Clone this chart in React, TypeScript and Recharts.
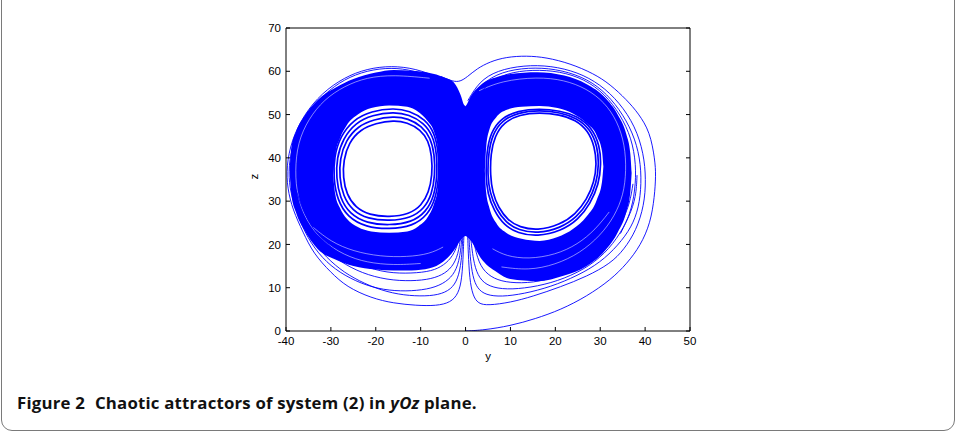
import React from 'react';
import { ComposedChart, Area, Line, XAxis, YAxis } from 'recharts';

const X_TICKS = [-40, -30, -20, -10, 0, 10, 20, 30, 40, 50];
const Z_TICKS = [0, 10, 20, 30, 40, 50, 60, 70];

// Dense bands of the two lobes: [y, zLow, zHigh]
const LEFT_BAND = [
  [-39.2, 37, 37], [-38.8, 31.5, 42.5], [-37.8, 27.5, 46], [-36, 23.5, 49.5], [-33, 19, 53.3],
  [-29, 16.5, 56.2], [-25, 15, 58.2], [-20, 14.2, 59.7], [-16, 14, 60.3], [-12, 14, 60.1],
  [-8, 14.5, 59.6], [-5, 16, 58.7], [-2.6, 18.6, 57.4], [-1.1, 21, 54.5], [-0.3, 22, 52.2],
  [1.5, 20.5, 51],
];
const RIGHT_BAND = [
  [-1.5, 20.5, 51], [0.2, 22, 52.2], [1.1, 21, 54.1], [3.3, 17, 56.8], [7, 13.6, 58.7],
  [10, 12, 59.4], [16, 11.5, 59.8], [22, 12.8, 59], [27, 15, 57], [31, 18.5, 54],
  [34, 23, 49.8], [35.8, 27.5, 45.5], [36.7, 32, 41], [37, 36.5, 36.5],
];
// Empty holes inside the lobes: [y, zLow, zHigh]
const LEFT_HOLE = [
  [-29.5, 36, 36], [-29, 31.5, 41], [-28, 28.5, 44.5], [-26.5, 26, 47.5], [-24, 24, 50],
  [-21, 23, 51.5], [-17, 22.7, 52.1], [-13, 23, 51.8], [-10.5, 24.2, 50.6], [-8.5, 26.2, 48.6],
  [-7, 29.5, 46], [-6.2, 33, 42.5], [-5.9, 37.5, 37.5],
];
const RIGHT_HOLE = [
  [4.3, 37, 37], [4.6, 32, 42.5], [5.3, 28.5, 46.5], [6.8, 25, 49.3], [9.2, 22.6, 51.1],
  [12.5, 21.3, 51.8], [16.5, 20.8, 52], [20.5, 21.7, 51.5], [24, 23.6, 50.2], [27, 26.5, 48],
  [29.3, 30.5, 45], [30.4, 34.5, 41.5], [30.7, 38, 38],
];

// Sparse trajectory strands: [y, z]
const START_ORBIT = [
  [0, 0], [4, 0.2], [10, 1.2], [15.5, 2.8], [21.2, 4.9], [27, 8], [32.3, 11.8], [36, 15.6],
  [39, 19.8], [41.2, 25], [42.1, 31], [42.4, 36], [42.2, 39.5], [41.1, 46], [38.5, 50.3],
  [35.9, 53.4], [32.2, 57], [28.5, 59.5], [23.3, 61.8], [18, 63.2], [13.6, 63.6], [9, 63.3],
  [5.4, 62.2], [2.5, 60.6], [0.4, 58.7], [-1.5, 57.4], [-3.5, 57.9], [-5.5, 58.8],
];
const LEFT_STRAND_A = [
  [-2, 55.8], [-6, 58.6], [-11, 60.6], [-16.5, 61.3], [-22, 60.6], [-27, 58.6], [-32, 55],
  [-36, 50], [-38.8, 44], [-39.9, 38], [-39.7, 33], [-38.5, 28], [-36.2, 22.8], [-33.9, 17.9],
  [-30, 13.5], [-26.5, 10.2], [-21, 7.6], [-16, 6.4], [-11, 5.9], [-6.5, 5.8], [-3.3, 6.6],
  [-1.6, 8.6], [-0.8, 12], [-0.5, 18], [-0.3, 24],
];
const LEFT_STRAND_B = [
  [-2.3, 55.3], [-6.5, 58.2], [-11.5, 60.2], [-16.5, 60.9], [-22, 60.2], [-27, 58.2],
  [-31.5, 54.8], [-35.5, 49.8], [-38.3, 44], [-39.5, 38], [-39.2, 33], [-38, 28.5],
  [-35.6, 23.5], [-33, 19.2], [-29, 15], [-25, 12.2], [-20, 9.8], [-15, 8.4], [-10, 8],
  [-6, 8.3], [-3.2, 9.6], [-1.7, 12], [-0.9, 16], [-0.6, 22],
];
const LEFT_STRAND_C = [
  [-38.9, 36], [-38.6, 31], [-37, 25.5], [-34.5, 20.2], [-31, 15.8], [-27, 12.8], [-22, 10.4],
  [-17, 9.3], [-12, 9.2], [-7.5, 9.8], [-4.3, 11.3], [-2.3, 13.5], [-1.2, 17], [-0.7, 23],
];
const LEFT_STRAND_D = [
  [-38.6, 35], [-37.8, 29.5], [-35.8, 24.5], [-32.5, 19.8], [-28, 16], [-23, 13.3],
  [-17.5, 11.8], [-12, 11.5], [-7.5, 12], [-4.5, 13.3], [-2.6, 15.3], [-1.4, 18.5], [-0.9, 24],
];
const LEFT_STRAND_E = [
  [-37.9, 33], [-35.8, 26.5], [-32.5, 21.5], [-28, 17.6], [-23, 15], [-17.5, 13.4],
  [-12, 13.3], [-7.5, 13.8], [-4.8, 15.2], [-2.8, 17.3], [-1.5, 20.5], [-1, 25],
];
const RIGHT_STRAND_A = [
  [0.5, 53.2], [3, 57.6], [7, 60.2], [13, 61.4], [19, 61.3], [25, 59.8], [30, 57], [34.3, 52.8],
  [37.8, 47.3], [39.7, 41], [40.2, 35], [39.8, 29], [38, 23.2], [35.3, 18.8], [32.3, 15.6],
  [27, 12.6], [21.2, 10.2], [15, 8], [10, 6.6], [5, 5.9], [2.8, 6.3], [1.6, 8.2], [0.9, 12],
  [0.6, 18], [0.4, 24],
];
const RIGHT_STRAND_B = [
  [0.8, 52.6], [3.5, 57.2], [8, 59.9], [14, 60.9], [20, 60.6], [26, 58.8], [30.5, 55.8],
  [34.3, 51.3], [37.3, 45.8], [38.9, 40], [39.2, 34], [38.6, 28.5], [37, 24], [34, 19.8],
  [30, 15.8], [25, 12.8], [19, 10.2], [13, 8.6], [8, 7.9], [4.5, 8.3], [2.6, 9.8], [1.6, 12.5],
  [1, 17], [0.7, 23],
];
const RIGHT_STRAND_C = [
  [38.2, 36], [38, 31], [36.5, 26.5], [33.8, 21.3], [30, 16.8], [25, 13.4], [19, 11],
  [13, 9.8], [8, 9.6], [4.5, 10.6], [2.7, 12.8], [1.7, 16.3], [1.1, 22],
];
const RIGHT_STRAND_D = [
  [37.3, 34], [36.6, 29.5], [35, 25.5], [32.3, 20.8], [28, 16.8], [22.5, 13.4], [16.5, 11.3],
  [11, 11], [7, 11.7], [4.3, 13.5], [2.6, 16.5], [1.5, 22.5],
];
const RIGHT_STRAND_E = [
  [1.2, 52], [4.5, 57], [9, 59.6], [15, 60.4], [21, 60], [26.5, 58.2], [31, 54.8], [34.5, 50],
  [37, 44.5], [38, 38.5], [37.8, 32.5], [36.7, 27], [34.5, 22.5],
];

// Thin light gaps seen inside the dense bands: [y, z]
const LEFT_GAP_A = [
  [-8, 58.4], [-16, 59.2], [-22, 58.6], [-27, 56.6], [-31.5, 53.5], [-35, 49], [-37.4, 43.5],
  [-38, 37], [-37.5, 31], [-35.5, 25.5], [-32, 20.8], [-27, 17.5], [-22, 15.8], [-16, 15.2],
  [-10, 15.6],
];
const LEFT_GAP_B = [
  [-34, 24], [-30, 20.6], [-25, 18.4], [-19, 17.2], [-13, 17.1], [-8, 17.8], [-5, 19.4],
];
const RIGHT_GAP_A = [
  [3, 55.5], [8, 57.8], [16, 58.7], [22, 58], [27, 56], [31, 52.8], [33.8, 48.5], [35.5, 43],
  [35.8, 37], [35.2, 31.5], [33.2, 26.5], [30, 22], [25.5, 18], [20, 15.3], [14, 14], [8, 14.8],
];
const RIGHT_GAP_B = [
  [32, 27.5], [29, 23.5], [25, 20], [20, 17.6], [14, 16.6], [9, 17.3], [6, 19],
];

// Closed rings around the holes: [y, z]
const LEFT_RING_0 = [
  [-16, 48.7], [-20, 48], [-23.5, 46.5], [-26, 43.5], [-27.2, 39.5], [-27.3, 35.5], [-26.5, 31.5],
  [-24.5, 28.5], [-21.5, 26.8], [-17, 26.3], [-12.5, 27], [-9.8, 29], [-8.2, 32], [-7.4, 36],
  [-7.5, 40.5], [-8.3, 44], [-10, 46.5], [-13, 48.2],
];
const LEFT_RING_1 = [
  [-16, 49.6], [-20.5, 48.9], [-24, 47.3], [-26.7, 44], [-28, 39.8], [-28.1, 35.5], [-27.3, 31.2],
  [-25.2, 27.8], [-21.8, 25.9], [-17, 25.4], [-12.2, 26.1], [-9.2, 28.3], [-7.5, 31.6], [-6.8, 36],
  [-6.9, 40.8], [-7.8, 44.6], [-9.7, 47.3], [-12.8, 49.1],
];
const LEFT_RING_2 = [
  [-16, 50.6], [-20.8, 49.9], [-24.5, 48.1], [-27.3, 44.5], [-28.7, 40], [-28.8, 35.3], [-28, 30.8],
  [-25.8, 27], [-22, 24.9], [-17, 24.4], [-12, 25.1], [-8.8, 27.5], [-7, 31.1], [-6.3, 36],
  [-6.4, 41], [-7.3, 45.2], [-9.3, 48.1], [-12.6, 50],
];
const LEFT_RING_3 = [
  [-16, 51.5], [-21, 50.8], [-25, 48.8], [-27.9, 45], [-29.3, 40.2], [-29.4, 35.2], [-28.6, 30.4],
  [-26.3, 26.3], [-22.2, 24], [-17, 23.5], [-11.8, 24.2], [-8.4, 26.8], [-6.6, 30.7], [-5.9, 36],
  [-6, 41.2], [-6.9, 45.8], [-9, 48.9], [-12.5, 50.9],
];
const RIGHT_RING_0 = [
  [16.5, 50.5], [21, 50], [24.5, 48.8], [27.3, 46.3], [28.8, 42.5], [29.2, 38.5], [28.7, 34.5],
  [27, 30.3], [24.5, 27], [21, 24.5], [16, 23.2], [12, 24], [9.5, 25.5], [7.3, 28.5], [6, 32],
  [5.5, 36], [5.6, 41], [6.5, 45], [8.5, 48.2], [12, 50],
];
const RIGHT_RING_1 = [
  [16.5, 51], [21, 50.5], [24.8, 49.2], [27.8, 46.6], [29.4, 42.6], [29.7, 38.5], [29.2, 34.2],
  [27.4, 29.8], [24.8, 26.3], [21.2, 23.8], [16, 22.5], [11.8, 23.3], [9, 25], [6.8, 28.2],
  [5.4, 32], [4.9, 36], [5.1, 41.2], [6, 45.4], [8.1, 48.7], [11.8, 50.5],
];
const RIGHT_RING_2 = [
  [16.5, 51.4], [21, 50.9], [25, 49.6], [28.2, 46.9], [29.9, 42.8], [30.2, 38.5], [29.7, 34],
  [27.8, 29.4], [25.1, 25.7], [21.3, 23.1], [16, 21.8], [11.6, 22.6], [8.6, 24.4], [6.3, 27.8],
  [4.9, 31.8], [4.5, 36], [4.7, 41.4], [5.6, 45.8], [7.8, 49.1], [11.6, 50.9],
];

const BLUE = '#0000ff';

const toRange = (a: number[][]) => a.map(([y, lo, hi]) => ({ y, r: [lo, hi] }));
const toPts = (a: number[][]) => a.map(([y, z]) => ({ y, z }));

const OPEN_STRANDS = [
  START_ORBIT, LEFT_STRAND_A, LEFT_STRAND_B, LEFT_STRAND_C, LEFT_STRAND_D, LEFT_STRAND_E,
  RIGHT_STRAND_A, RIGHT_STRAND_B, RIGHT_STRAND_C, RIGHT_STRAND_D, RIGHT_STRAND_E,
];
const GAP_STRANDS = [LEFT_GAP_A, LEFT_GAP_B, RIGHT_GAP_A, RIGHT_GAP_B];
const CLOSED_STRANDS = [
  LEFT_RING_0, LEFT_RING_1, LEFT_RING_2, LEFT_RING_3, RIGHT_RING_0, RIGHT_RING_1, RIGHT_RING_2,
];

const tickFont = { fill: '#000', fontSize: 11.5, fontFamily: "'Liberation Sans', Arial, sans-serif" };

export default function App() {
  return (
    <div style={{ position: 'absolute', left: 0, top: 0, width: 958, height: 435, background: '#fff', overflow: 'hidden' }}>
      <div
        style={{
          position: 'absolute', left: 1, top: -20, width: 954, height: 451,
          border: '1px solid #7a7a7a', borderRadius: 11, boxSizing: 'border-box',
        }}
      />
      <div style={{ position: 'absolute', left: 0, top: 0 }}>
        <ComposedChart width={958} height={435} margin={{ top: 20, right: 260, bottom: 74, left: 246 }}>
          <XAxis
            dataKey="y" type="number" domain={[-40, 50]} ticks={X_TICKS} allowDataOverflow
            tickSize={-4} tickMargin={10} tick={tickFont} height={30}
            axisLine={{ stroke: '#000' }} tickLine={{ stroke: '#000' }}
            label={{ value: 'y', position: 'insideBottom', offset: 1, style: { ...tickFont } }}
          />
          <XAxis
            xAxisId="top" orientation="top" type="number" domain={[-40, 50]} ticks={X_TICKS}
            allowDataOverflow tickSize={-4} tickFormatter={() => ''} height={8}
            axisLine={{ stroke: '#000' }} tickLine={{ stroke: '#000' }}
          />
          <YAxis
            type="number" domain={[0, 70]} ticks={Z_TICKS} allowDataOverflow
            tickSize={-4} tickMargin={9} tick={tickFont} width={40}
            axisLine={{ stroke: '#000' }} tickLine={{ stroke: '#000' }}
            label={{ value: 'z', angle: -90, position: 'insideLeft', offset: 8, style: { ...tickFont } }}
          />
          <YAxis
            yAxisId="right" orientation="right" type="number" domain={[0, 70]} ticks={Z_TICKS}
            allowDataOverflow tickSize={-4} tickFormatter={() => ''} width={8}
            axisLine={{ stroke: '#000' }} tickLine={{ stroke: '#000' }}
          />
          <Area data={toRange(LEFT_BAND)} dataKey="r" type="monotone" stroke="none" fill={BLUE} fillOpacity={1} isAnimationActive={false} activeDot={false} />
          <Area data={toRange(RIGHT_BAND)} dataKey="r" type="monotone" stroke="none" fill={BLUE} fillOpacity={1} isAnimationActive={false} activeDot={false} />
          <Area data={toRange(LEFT_HOLE)} dataKey="r" type="monotone" stroke="none" fill="#fff" fillOpacity={1} isAnimationActive={false} activeDot={false} />
          <Area data={toRange(RIGHT_HOLE)} dataKey="r" type="monotone" stroke="none" fill="#fff" fillOpacity={1} isAnimationActive={false} activeDot={false} />
          {GAP_STRANDS.map((s, i) => (
            <Line key={'g' + i} data={toPts(s)} dataKey="z" type="basis" stroke="#ffffff" strokeOpacity={0.75} strokeWidth={0.7} dot={false} activeDot={false} isAnimationActive={false} />
          ))}
          {OPEN_STRANDS.map((s, i) => (
            <Line key={'o' + i} data={toPts(s)} dataKey="z" type="basis" stroke={BLUE} strokeWidth={0.9} dot={false} activeDot={false} isAnimationActive={false} />
          ))}
          {CLOSED_STRANDS.map((s, i) => (
            <Line key={'c' + i} data={toPts(s)} dataKey="z" type="basisClosed" stroke={BLUE} strokeWidth={1.7} dot={false} activeDot={false} isAnimationActive={false} />
          ))}
        </ComposedChart>
      </div>
      <div
        style={{
          position: 'absolute', left: 17, top: 390.5, whiteSpace: 'nowrap', color: '#111',
          fontFamily: "'Open Sans', sans-serif", fontWeight: 700, fontSize: 16.8, letterSpacing: 0.2,
        }}
      >
        Figure 2<span style={{ marginLeft: 10 }}>Chaotic attractors of system (2) in </span>
        <i>yOz</i> plane.
      </div>
    </div>
  );
}
